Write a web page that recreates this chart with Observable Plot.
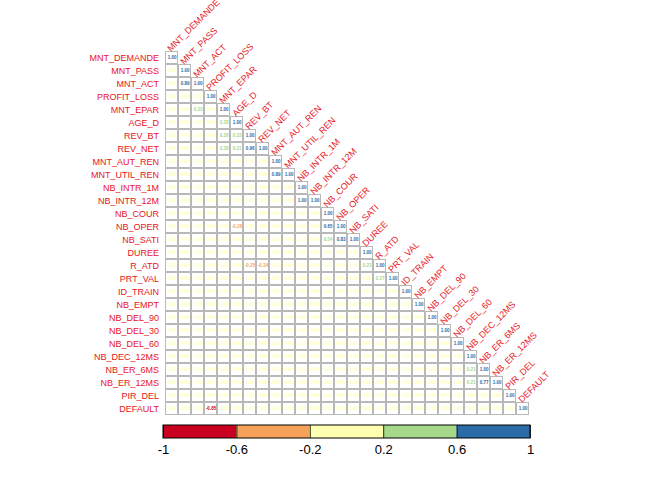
<!DOCTYPE html>
<html><head><meta charset="utf-8">
<script src="https://cdn.jsdelivr.net/npm/d3@7"></script>
<script src="https://cdn.jsdelivr.net/npm/@observablehq/plot@0.6"></script>
<style>body{margin:0;background:#fff;font-family:"Liberation Sans",Arial,sans-serif}svg{display:block}</style>
</head><body><div id="c"></div>
<script>
const vars = ["MNT_DEMANDE","MNT_PASS","MNT_ACT","PROFIT_LOSS","MNT_EPAR","AGE_D","REV_BT","REV_NET","MNT_AUT_REN","MNT_UTIL_REN","NB_INTR_1M","NB_INTR_12M","NB_COUR","NB_OPER","NB_SATI","DUREE","R_ATD","PRT_VAL","ID_TRAIN","NB_EMPT","NB_DEL_90","NB_DEL_30","NB_DEL_60","NB_DEC_12MS","NB_ER_6MS","NB_ER_12MS","PIR_DEL","DEFAULT"];
// notable correlations [row, col, value]; others read as ~0
const notable = [
  ["MNT_ACT","MNT_PASS",0.89],
  ["MNT_EPAR","MNT_ACT",0.33],
  ["AGE_D","MNT_EPAR",0.28],
  ["REV_BT","MNT_EPAR",0.28],["REV_BT","AGE_D",0.33],
  ["REV_NET","MNT_EPAR",0.28],["REV_NET","AGE_D",0.31],["REV_NET","REV_BT",0.96],
  ["MNT_UTIL_REN","MNT_AUT_REN",0.89],
  ["NB_INTR_12M","NB_INTR_1M",1.00],
  ["NB_OPER","AGE_D",-0.26],["NB_OPER","NB_COUR",0.65],
  ["NB_SATI","NB_COUR",0.54],["NB_SATI","NB_OPER",0.83],
  ["R_ATD","REV_BT",-0.25],["R_ATD","REV_NET",-0.24],["R_ATD","DUREE",0.23],
  ["PRT_VAL","R_ATD",0.27],
  ["NB_ER_6MS","NB_DEC_12MS",0.21],
  ["NB_ER_12MS","NB_DEC_12MS",0.21],["NB_ER_12MS","NB_ER_6MS",0.77],
  ["DEFAULT","PROFIT_LOSS",-0.85]
];
const colors = ["#ca0020","#f4a259","#ffffb2","#a6d88a","#2b6ca8"];
const breaks = [-0.6,-0.2,0.2,0.6];
const legendTicks = [-1,-0.6,-0.2,0.2,0.6,1];

const lookup = new Map(notable.map(d => [d[0]+"|"+d[1], d[2]]));
const cells = [];
vars.forEach((r,i) => vars.forEach((c,j) => {
  if (j <= i) cells.push({row:r, col:c, v: i===j ? 1 : (lookup.get(r+"|"+c) ?? 0)});
}));
const diag = vars.map(v => ({v}));
const font = {fontFamily:"Liberation Sans, Arial, sans-serif"};

const main = Plot.plot({
  width:672, height:420, marginLeft:163, marginRight:142, marginTop:49, marginBottom:4,
  x:{type:"band", domain:vars, padding:0, axis:null},
  y:{type:"band", domain:vars, padding:0, axis:null},
  color:{type:"threshold", domain:breaks, range:colors},
  style:font,
  marks:[
    Plot.cell(cells,{x:"col", y:"row", fill:"white", stroke:"#b8b8b8", strokeWidth:1, inset:0.5}),
    Plot.text(cells,{x:"col", y:"row", text:d=>d.v.toFixed(2), fill:d=>d.v, fontSize:4.5, fontWeight:"bold"}),
    Plot.text(diag,{x:()=>vars[0], y:"v", text:"v", textAnchor:"end", dx:-13, fill:"#e8141c", fontSize:9}),
    Plot.text(diag,{x:"v", y:"v", text:"v", textAnchor:"start", rotate:-45, dx:-3, dy:-8, fill:"#e8141c", fontSize:9})
  ]
});
const bins = [-1,...breaks].map((a,k)=>({a, b:[...breaks,1][k], k}));
const legend = Plot.plot({
  width:672, height:60, marginLeft:163, marginRight:142, marginTop:5, marginBottom:42,
  x:{domain:[-1,1], ticks:legendTicks, tickFormat:d=>String(d), tickSize:0, tickPadding:6, label:null},
  y:{domain:[0,1], axis:null},
  style:{fontSize:"13px", color:"black", ...font},
  marks:[
    Plot.rectY(bins,{x1:"a", x2:"b", y1:0, y2:1, fill:d=>colors[d.k]}),
    Plot.tickX(legendTicks,{x:d=>d, y1:0, y2:0.2, stroke:"black", strokeWidth:0.8}),
    Plot.rectY([0],{x1:-1, x2:1, y1:0, y2:1, fill:"none", stroke:"black", strokeWidth:1})
  ]
});
document.getElementById("c").append(main, legend);
</script></body></html>
